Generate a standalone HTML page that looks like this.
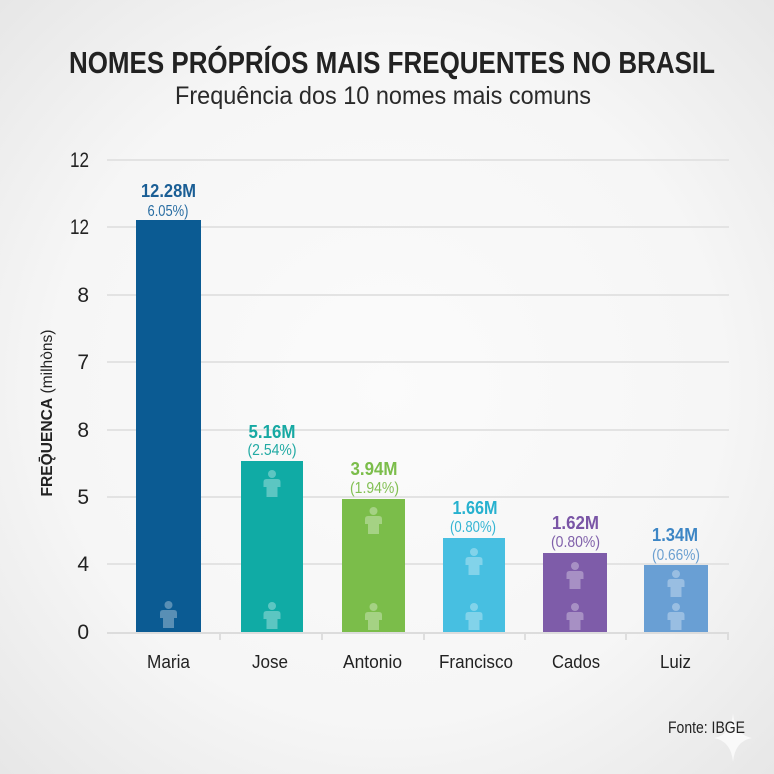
<!DOCTYPE html>
<html><head><meta charset="utf-8"><style>
html,body{margin:0;padding:0;width:774px;height:774px;overflow:hidden;background:#f2f2f2}
svg{display:block}
text{font-family:"Liberation Sans",sans-serif}
</style></head><body>
<svg width="774" height="774" viewBox="0 0 774 774" xmlns="http://www.w3.org/2000/svg">
<defs>
<radialGradient id="bg" cx="50%" cy="50%" r="72%">
<stop offset="0" stop-color="#fbfbfb"/><stop offset="0.6" stop-color="#f6f6f6"/><stop offset="1" stop-color="#e6e6e6"/>
</radialGradient>
<g id="p"><circle cx="0" cy="0" r="4" /><path d="M-8.5,13 L-8.5,8 Q-8.5,5 -5.5,5 L5.5,5 Q8.5,5 8.5,8 L8.5,13 L5.5,13 L5.5,23 L-5.5,23 L-5.5,13 Z"/></g>
</defs>
<rect width="774" height="774" fill="url(#bg)"/>
<text x="392" y="73" font-size="31" font-weight="bold" fill="#222" text-anchor="middle" textLength="646" lengthAdjust="spacingAndGlyphs">NOMES PRÓPRÍOS MAIS FREQUENTES NO BRASIL</text>
<text x="383" y="104" font-size="25" fill="#2a2a2a" text-anchor="middle" textLength="416" lengthAdjust="spacingAndGlyphs">Frequência dos 10 nomes mais comuns</text>
<g stroke="#e3e3e3" stroke-width="2">
<line x1="107" y1="160" x2="729" y2="160"/><line x1="107" y1="227" x2="729" y2="227"/>
<line x1="107" y1="295" x2="729" y2="295"/><line x1="107" y1="362" x2="729" y2="362"/>
<line x1="107" y1="430" x2="729" y2="430"/><line x1="107" y1="497" x2="729" y2="497"/>
<line x1="107" y1="564" x2="729" y2="564"/>
</g>
<g font-size="21" fill="#222" text-anchor="end">
<text x="89" y="167" textLength="19" lengthAdjust="spacingAndGlyphs">12</text>
<text x="89" y="234" textLength="19" lengthAdjust="spacingAndGlyphs">12</text>
<text x="89" y="302">8</text><text x="89" y="369">7</text><text x="89" y="437">8</text>
<text x="89" y="504">5</text><text x="89" y="571">4</text><text x="89" y="639">0</text>
</g>
<text transform="translate(52,413) rotate(-90)" font-size="16" fill="#222" text-anchor="middle" textLength="167" lengthAdjust="spacingAndGlyphs"><tspan font-weight="bold">FREǬUENCA</tspan> (milhòns)</text>
<!-- bars -->
<rect x="136" y="220" width="65" height="413" fill="#0b5b93"/>
<rect x="241" y="461" width="62" height="172" fill="#10aba5"/>
<rect x="342" y="499" width="63" height="134" fill="#7bbd4a"/>
<rect x="443" y="538" width="62" height="95" fill="#47bfe1"/>
<rect x="543" y="553" width="64" height="80" fill="#7e5ca9"/>
<rect x="644" y="565" width="64" height="68" fill="#699fd4"/>
<!-- axis -->
<line x1="107" y1="633" x2="729" y2="633" stroke="#dcdcdc" stroke-width="2"/>
<g stroke="#d6d6d6" stroke-width="1.5">
<line x1="220" y1="634" x2="220" y2="640"/><line x1="322" y1="634" x2="322" y2="640"/>
<line x1="424" y1="634" x2="424" y2="640"/><line x1="525" y1="634" x2="525" y2="640"/>
<line x1="626" y1="634" x2="626" y2="640"/><line x1="728" y1="634" x2="728" y2="640"/>
</g>
<!-- icons -->
<g fill="#ffffff" fill-opacity="0.32">
<use href="#p" x="168.5" y="605"/>
<use href="#p" x="272" y="474"/><use href="#p" x="272" y="606"/>
<use href="#p" x="373.5" y="511"/><use href="#p" x="373.5" y="607"/>
<use href="#p" x="474" y="552"/><use href="#p" x="474" y="607"/>
<use href="#p" x="575" y="566"/><use href="#p" x="575" y="607"/>
<use href="#p" x="676" y="574"/><use href="#p" x="676" y="607"/>
</g>
<!-- value labels -->
<g font-size="18" font-weight="bold" text-anchor="middle">
<text x="168.5" y="197" fill="#1a5e95" textLength="55" lengthAdjust="spacingAndGlyphs">12.28M</text>
<text x="272" y="438" fill="#17a9a3" textLength="47" lengthAdjust="spacingAndGlyphs">5.16M</text>
<text x="374" y="475" fill="#7bbd4a" textLength="47" lengthAdjust="spacingAndGlyphs">3.94M</text>
<text x="475" y="514" fill="#27b1cf" textLength="45" lengthAdjust="spacingAndGlyphs">1.66M</text>
<text x="575.5" y="529" fill="#7a55a6" textLength="47" lengthAdjust="spacingAndGlyphs">1.62M</text>
<text x="675" y="541" fill="#3d86c5" textLength="46" lengthAdjust="spacingAndGlyphs">1.34M</text>
</g>
<g font-size="16" text-anchor="middle">
<text x="168" y="216" fill="#2a6ea3" textLength="41" lengthAdjust="spacingAndGlyphs">6.05%)</text>
<text x="272" y="455" fill="#22aaa4" textLength="49" lengthAdjust="spacingAndGlyphs">(2.54%)</text>
<text x="374.5" y="493" fill="#83c055" textLength="49" lengthAdjust="spacingAndGlyphs">(1.94%)</text>
<text x="473" y="532" fill="#35b5d3" textLength="46" lengthAdjust="spacingAndGlyphs">(0.80%)</text>
<text x="575.5" y="547" fill="#8060aa" textLength="49" lengthAdjust="spacingAndGlyphs">(0.80%)</text>
<text x="676" y="560" fill="#6b9fd0" textLength="48" lengthAdjust="spacingAndGlyphs">(0.66%)</text>
</g>
<!-- x labels -->
<g font-size="18" fill="#222" text-anchor="middle">
<text x="168.5" y="668" textLength="43" lengthAdjust="spacingAndGlyphs">Maria</text>
<text x="270" y="668" textLength="36" lengthAdjust="spacingAndGlyphs">Jose</text>
<text x="372.5" y="668" textLength="59" lengthAdjust="spacingAndGlyphs">Antonio</text>
<text x="476" y="668" textLength="74" lengthAdjust="spacingAndGlyphs">Francisco</text>
<text x="576" y="668" textLength="48" lengthAdjust="spacingAndGlyphs">Cados</text>
<text x="675.5" y="668" textLength="31" lengthAdjust="spacingAndGlyphs">Luiz</text>
</g>
<path d="M733,713 Q735,735 752,738 Q735,741 733,762 Q731,741 714,738 Q731,735 733,713 Z" fill="#ffffff" fill-opacity="0.7"/>
<text x="668" y="733" font-size="17" fill="#222" textLength="77" lengthAdjust="spacingAndGlyphs">Fonte: IBGE</text>
</svg>
</body></html>
